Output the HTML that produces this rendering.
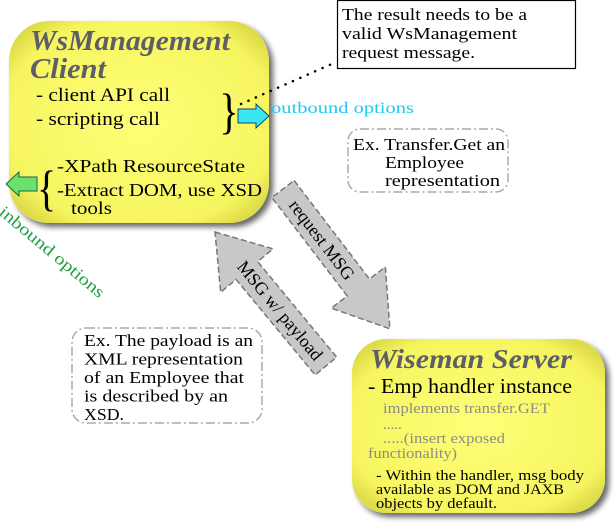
<!DOCTYPE html>
<html><head><meta charset="utf-8"><style>
html,body{margin:0;padding:0;background:#fff;}
svg{display:block;}
text{font-family:"Liberation Serif",serif;}
</style></head><body>
<svg width="614" height="529" viewBox="0 0 614 529" xmlns="http://www.w3.org/2000/svg">
<defs>
<filter id="sh" x="-10%" y="-10%" width="130%" height="130%"><feGaussianBlur in="SourceAlpha" stdDeviation="3"/><feOffset dx="4" dy="4"/><feComponentTransfer><feFuncA type="linear" slope="0.6"/></feComponentTransfer><feMerge><feMergeNode/><feMergeNode in="SourceGraphic"/></feMerge></filter>
<radialGradient id="yg" cx="50%" cy="50%" r="62%"><stop offset="0" stop-color="#ffff78"/><stop offset="0.85" stop-color="#f6f560"/><stop offset="1" stop-color="#dedc48"/></radialGradient>
</defs>

<!-- Client box -->
<rect x="9" y="21" width="260" height="202" rx="40" fill="url(#yg)" filter="url(#sh)"/>
<text x="30" y="50" font-size="29" font-style="italic" font-weight="bold" fill="#5e5e6a" textLength="200" lengthAdjust="spacingAndGlyphs">WsManagement</text>
<text x="30" y="78" font-size="29" font-style="italic" font-weight="bold" fill="#5e5e6a" textLength="76" lengthAdjust="spacingAndGlyphs">Client</text>
<text x="36" y="101" font-size="19" textLength="134" lengthAdjust="spacingAndGlyphs">- client API call</text>
<text x="36" y="125" font-size="19" textLength="124" lengthAdjust="spacingAndGlyphs">- scripting call</text>
<text x="218" y="128" font-size="50" transform="scale(0.8,1)" style="transform-origin:225px 110px">}</text>
<text x="57" y="172" font-size="18" textLength="188" lengthAdjust="spacingAndGlyphs">-XPath ResourceState</text>
<text x="57" y="196" font-size="18" textLength="205" lengthAdjust="spacingAndGlyphs">-Extract DOM, use XSD</text>
<text x="71" y="214" font-size="18" textLength="41" lengthAdjust="spacingAndGlyphs">tools</text>
<text x="35" y="205" font-size="50" transform="scale(0.8,1)" style="transform-origin:45px 185px">{</text>

<!-- callout -->
<rect x="337.5" y="0.5" width="238" height="68" fill="#fff" stroke="#000" stroke-width="1.2"/>
<text x="342" y="20" font-size="17" textLength="185" lengthAdjust="spacingAndGlyphs">The result needs to be a</text>
<text x="342" y="39" font-size="17" textLength="175" lengthAdjust="spacingAndGlyphs">valid WsManagement</text>
<text x="342" y="58" font-size="17" textLength="133" lengthAdjust="spacingAndGlyphs">request message.</text>
<line x1="241" y1="104" x2="334" y2="63" stroke="#000" stroke-width="2.5" stroke-dasharray="0.1 8" stroke-linecap="round"/>

<!-- outbound arrow -->
<polygon points="238,109 256,109 256,104 269,116 256,128 256,123 238,123" fill="#39e6f2" stroke="#146" stroke-width="1"/>
<text x="271" y="113" font-size="16" fill="#1ec8f0" textLength="143" lengthAdjust="spacingAndGlyphs">outbound options</text>

<!-- inbound arrow -->
<polygon points="37,177 19,177 19,172 6,184 19,196 19,191 37,191" fill="#6ee06e" stroke="#164" stroke-width="1"/>
<text x="0" y="216" font-size="17" fill="#1fa040" transform="rotate(40 2 212)" textLength="132" lengthAdjust="spacingAndGlyphs">inbound options</text>

<!-- Ex box 1 -->
<rect x="348" y="129" width="160" height="63" rx="12" fill="#fff" stroke="#aaa" stroke-width="1.5" stroke-dasharray="9 3 2 3"/>
<text x="353" y="150" font-size="17" textLength="152" lengthAdjust="spacingAndGlyphs">Ex. Transfer.Get an</text>
<text x="385" y="168" font-size="17" textLength="79" lengthAdjust="spacingAndGlyphs">Employee</text>
<text x="385" y="186" font-size="17" textLength="115" lengthAdjust="spacingAndGlyphs">representation</text>

<!-- request MSG arrow -->
<g transform="translate(283,189) rotate(52.6)">
<polygon points="0,-14 124,-14 124,-34 176,0 124,34 124,14 0,14" fill="#c8c8c8" stroke="#777" stroke-width="1.5" stroke-dasharray="6 3"/>
<text x="64" y="6" font-size="18" text-anchor="middle">request MSG</text>
</g>

<!-- MSG w/ payload arrow -->
<g transform="translate(215,232) rotate(50.4)">
<polygon points="0,0 50,-34 50,-14 174,-14 174,14 50,14 50,34" fill="#c8c8c8" stroke="#777" stroke-width="1.5" stroke-dasharray="6 3"/>
<text x="102" y="6" font-size="18" text-anchor="middle">MSG w/ payload</text>
</g>

<!-- Ex box 2 -->
<rect x="72" y="328" width="190" height="95" rx="14" fill="#fff" stroke="#aaa" stroke-width="1.5" stroke-dasharray="9 3 2 3"/>
<text x="84" y="346" font-size="17" textLength="169" lengthAdjust="spacingAndGlyphs">Ex. The payload is an</text>
<text x="84" y="364.5" font-size="17" textLength="159" lengthAdjust="spacingAndGlyphs">XML representation</text>
<text x="84" y="383" font-size="17" textLength="160" lengthAdjust="spacingAndGlyphs">of an Employee that</text>
<text x="84" y="401.5" font-size="17" textLength="144" lengthAdjust="spacingAndGlyphs">is described by an</text>
<text x="84" y="420" font-size="17" textLength="40" lengthAdjust="spacingAndGlyphs">XSD.</text>

<!-- Server box -->
<rect x="352" y="339" width="253" height="174" rx="34" fill="url(#yg)" filter="url(#sh)"/>
<text x="370" y="368" font-size="27" font-style="italic" font-weight="bold" fill="#5e5e6a" textLength="202" lengthAdjust="spacingAndGlyphs">Wiseman Server</text>
<text x="368" y="393" font-size="21" textLength="204" lengthAdjust="spacingAndGlyphs">- Emp handler instance</text>
<text x="383" y="413" font-size="15" fill="#8c8c84" textLength="167" lengthAdjust="spacingAndGlyphs">implements transfer.GET</text>
<text x="383" y="429" font-size="15" fill="#8c8c84">.....</text>
<text x="383" y="443" font-size="15" fill="#8c8c84" textLength="122" lengthAdjust="spacingAndGlyphs">.....(insert  exposed</text>
<text x="368" y="458" font-size="15" fill="#8c8c84" textLength="89" lengthAdjust="spacingAndGlyphs">functionality)</text>
<text x="376" y="480" font-size="15" textLength="208" lengthAdjust="spacingAndGlyphs">- Within the handler, msg body</text>
<text x="376" y="494" font-size="15" textLength="188" lengthAdjust="spacingAndGlyphs">available as DOM and JAXB</text>
<text x="376" y="508" font-size="15" textLength="121" lengthAdjust="spacingAndGlyphs">objects by default.</text>
</svg>
</body></html>
